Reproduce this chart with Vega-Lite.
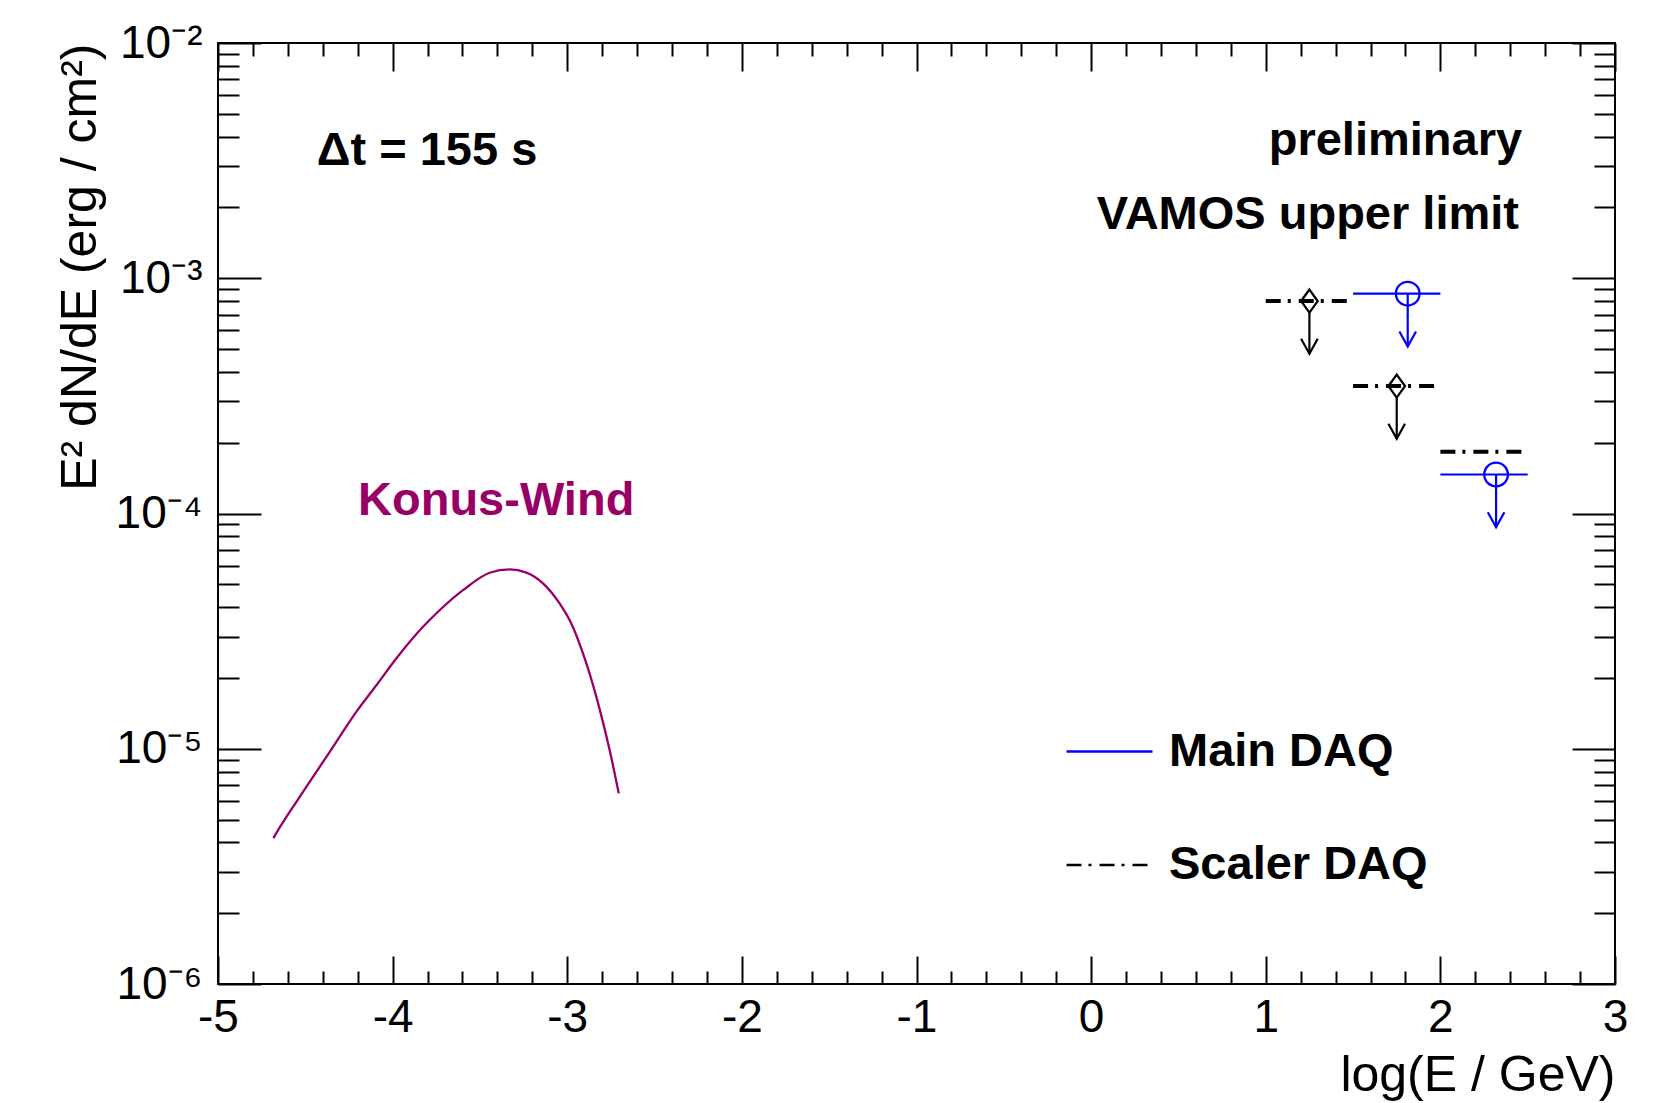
{
  "$schema": "https://vega.github.io/schema/vega-lite/v6.json",
  "width": 1397,
  "height": 941,
  "autosize": {"type": "none"},
  "padding": {"left": 218, "top": 43, "right": 55, "bottom": 119},
  "background": "white",
  "config": {
    "font": "Liberation Sans",
    "view": {"stroke": "black", "strokeWidth": 2},
    "axis": {"grid": false, "domain": false, "tickColor": "black", "tickWidth": 2, "labelColor": "black", "titleColor": "black", "labelFont": "Liberation Sans", "titleFont": "Liberation Sans", "labelFontWeight": "normal", "titleFontWeight": "normal"}
  },
  "datasets": {
    "konus": [
      {"logE": -4.683, "flux": 4.17e-6},
      {"logE": -4.656, "flux": 4.51e-6},
      {"logE": -4.532, "flux": 6.25e-6},
      {"logE": -4.360, "flux": 9.70e-6},
      {"logE": -4.208, "flux": 1.435e-5},
      {"logE": -4.093, "flux": 1.862e-5},
      {"logE": -3.979, "flux": 2.42e-5},
      {"logE": -3.826, "flux": 3.30e-5},
      {"logE": -3.731, "flux": 3.88e-5},
      {"logE": -3.597, "flux": 4.72e-5},
      {"logE": -3.444, "flux": 5.60e-5},
      {"logE": -3.330, "flux": 5.79e-5},
      {"logE": -3.234, "flux": 5.61e-5},
      {"logE": -3.139, "flux": 5.05e-5},
      {"logE": -3.044, "flux": 4.15e-5},
      {"logE": -2.977, "flux": 3.41e-5},
      {"logE": -2.891, "flux": 2.31e-5},
      {"logE": -2.813, "flux": 1.459e-5},
      {"logE": -2.757, "flux": 9.86e-6},
      {"logE": -2.705, "flux": 6.46e-6}
    ],
    "main": [
      {"daq": "Main DAQ", "xlo": 1.5, "xhi": 2.0, "xc": 1.813, "flux": 8.6e-4, "arrow_end": 5.13e-4},
      {"daq": "Main DAQ", "xlo": 2.0, "xhi": 2.5, "xc": 2.319, "flux": 1.465e-4, "arrow_end": 8.75e-5}
    ],
    "scaler": [
      {"daq": "Scaler DAQ", "xlo": 1.0, "xhi": 1.5, "xc": 1.25, "flux": 8.0e-4, "arrow_end": 4.78e-4},
      {"daq": "Scaler DAQ", "xlo": 1.5, "xhi": 2.0, "xc": 1.75, "flux": 3.48e-4, "arrow_end": 2.08e-4},
      {"daq": "Scaler DAQ", "xlo": 2.0, "xhi": 2.5, "xc": null, "flux": 1.83e-4, "arrow_end": null}
    ]
  },
  "resolve": {"axis": {"x": "independent", "y": "independent"}},
  "layer": [
    {
      "data": {"name": "konus"},
      "mark": {"type": "line", "color": "#990066", "strokeWidth": 2.3, "interpolate": "monotone"},
      "encoding": {
        "x": {
          "field": "logE", "type": "quantitative",
          "scale": {"domain": [-5, 3], "nice": false, "zero": false},
          "axis": {
            "orient": "bottom",
            "values": [-5,-4.8,-4.6,-4.4,-4.2,-4,-3.8,-3.6,-3.4,-3.2,-3,-2.8,-2.6,-2.4,-2.2,-2,-1.8,-1.6,-1.4,-1.2,-1,-0.8,-0.6,-0.4,-0.2,0,0.2,0.4,0.6,0.8,1,1.2,1.4,1.6,1.8,2,2.2,2.4,2.6,2.8,3],
            "labelExpr": "abs(datum.value - round(datum.value)) < 0.001 ? '' + round(datum.value) : ''",
            "tickSize": {"condition": {"test": "abs(datum.value - round(datum.value)) < 0.001", "value": -28}, "value": -13},
            "labelFontSize": 46,
            "labelPadding": 39,
            "labelOverlap": false,
            "labelFlush": false,
            "title": "log(E / GeV)",
            "titleFontSize": 50,
            "titleAnchor": "end",
            "titlePadding": -5
          }
        },
        "y": {
          "field": "flux", "type": "quantitative",
          "scale": {"type": "log", "domain": [1e-6, 1e-2], "nice": false},
          "axis": {
            "orient": "left",
            "values": [1e-6,2e-6,3e-6,4e-6,5e-6,6e-6,7e-6,8e-6,9e-6,1e-5,2e-5,3e-5,4e-5,5e-5,6e-5,7e-5,8e-5,9e-5,1e-4,2e-4,3e-4,4e-4,5e-4,6e-4,7e-4,8e-4,9e-4,1e-3,2e-3,3e-3,4e-3,5e-3,6e-3,7e-3,8e-3,9e-3,1e-2],
            "labelExpr": "abs(log(datum.value)/LN10 - round(log(datum.value)/LN10)) < 0.001 ? '10' + (round(log(datum.value)/LN10) == -2 ? '⁻²' : round(log(datum.value)/LN10) == -3 ? '⁻³' : round(log(datum.value)/LN10) == -4 ? '⁻⁴' : round(log(datum.value)/LN10) == -5 ? '⁻⁵' : '⁻⁶') : ''",
            "tickSize": {"condition": {"test": "abs(log(datum.value)/LN10 - round(log(datum.value)/LN10)) < 0.001", "value": -43}, "value": -21},
            "labelFontSize": 46,
            "labelPadding": 59,
            "labelOverlap": false,
            "labelFlush": false,
            "title": "E² dN/dE (erg / cm²)",
            "titleFontSize": 50,
            "titleAnchor": "end",
            "titlePadding": 10
          }
        }
      }
    },
    {
      "data": {"name": "main"},
      "mark": {"type": "rule", "color": "#0000ff", "strokeWidth": 2.2},
      "encoding": {
        "x": {"field": "xc", "type": "quantitative", "axis": null},
        "y": {"field": "flux", "type": "quantitative", "axis": null},
        "y2": {"field": "arrow_end"}
      }
    },
    {
      "data": {"name": "main"},
      "mark": {"type": "point", "shape": "M-1,-1.8L0,0L1,-1.8", "size": 276, "filled": false, "color": "#0000ff", "strokeWidth": 2.2, "opacity": 1},
      "encoding": {
        "x": {"field": "xc", "type": "quantitative", "axis": null},
        "y": {"field": "arrow_end", "type": "quantitative", "axis": null}
      }
    },
    {
      "data": {"name": "main"},
      "mark": {"type": "point", "shape": "circle", "size": 560, "filled": false, "color": "#0000ff", "strokeWidth": 2.3, "opacity": 1},
      "encoding": {
        "x": {"field": "xc", "type": "quantitative", "axis": null},
        "y": {"field": "flux", "type": "quantitative", "axis": null}
      }
    },
    {
      "data": {"name": "scaler"},
      "transform": [{"filter": "isValid(datum.xc)"}],
      "mark": {"type": "rule", "color": "black", "strokeWidth": 2.2},
      "encoding": {
        "x": {"field": "xc", "type": "quantitative", "axis": null},
        "y": {"field": "flux", "type": "quantitative", "axis": null},
        "y2": {"field": "arrow_end"}
      }
    },
    {
      "data": {"name": "scaler"},
      "transform": [{"filter": "isValid(datum.xc)"}],
      "mark": {"type": "point", "shape": "M-1,-1.8L0,0L1,-1.8", "size": 276, "filled": false, "color": "black", "strokeWidth": 2.2, "opacity": 1},
      "encoding": {
        "x": {"field": "xc", "type": "quantitative", "axis": null},
        "y": {"field": "arrow_end", "type": "quantitative", "axis": null}
      }
    },
    {
      "data": {"name": "scaler"},
      "transform": [{"filter": "isValid(datum.xc)"}],
      "mark": {"type": "point", "shape": "M0,-1L0.72,0L0,1L-0.72,0Z", "size": 529, "filled": true, "fill": "white", "stroke": "black", "strokeWidth": 2.3, "opacity": 1},
      "encoding": {
        "x": {"field": "xc", "type": "quantitative", "axis": null},
        "y": {"field": "flux", "type": "quantitative", "axis": null}
      }
    },
    {
      "data": {"name": "main"},
      "mark": {"type": "rule", "strokeWidth": 2.2},
      "encoding": {
        "x": {
          "field": "xlo", "type": "quantitative",
          "axis": {
            "orient": "top",
            "values": [-5,-4.8,-4.6,-4.4,-4.2,-4,-3.8,-3.6,-3.4,-3.2,-3,-2.8,-2.6,-2.4,-2.2,-2,-1.8,-1.6,-1.4,-1.2,-1,-0.8,-0.6,-0.4,-0.2,0,0.2,0.4,0.6,0.8,1,1.2,1.4,1.6,1.8,2,2.2,2.4,2.6,2.8,3],
            "labels": false,
            "title": null,
            "tickSize": {"condition": {"test": "abs(datum.value - round(datum.value)) < 0.001", "value": -28}, "value": -13}
          }
        },
        "x2": {"field": "xhi"},
        "y": {
          "field": "flux", "type": "quantitative",
          "axis": {
            "orient": "right",
            "values": [1e-6,2e-6,3e-6,4e-6,5e-6,6e-6,7e-6,8e-6,9e-6,1e-5,2e-5,3e-5,4e-5,5e-5,6e-5,7e-5,8e-5,9e-5,1e-4,2e-4,3e-4,4e-4,5e-4,6e-4,7e-4,8e-4,9e-4,1e-3,2e-3,3e-3,4e-3,5e-3,6e-3,7e-3,8e-3,9e-3,1e-2],
            "labels": false,
            "title": null,
            "tickSize": {"condition": {"test": "abs(log(datum.value)/LN10 - round(log(datum.value)/LN10)) < 0.001", "value": -43}, "value": -21}
          }
        },
        "color": {
          "field": "daq", "type": "nominal",
          "scale": {"domain": ["Main DAQ", "Scaler DAQ"], "range": ["#0000ff", "#000000"]},
          "legend": {
            "orient": "none", "legendX": 847, "legendY": 664, "title": null,
            "symbolType": "stroke", "symbolSize": 7396, "symbolStrokeWidth": 2.5,
            "labelFontSize": 47, "labelFontWeight": "bold", "labelFont": "Liberation Sans", "labelColor": "black",
            "labelOffset": 15, "labelLimit": 500, "rowPadding": 45.6, "padding": 0
          }
        },
        "strokeDash": {
          "field": "daq", "type": "nominal",
          "scale": {"domain": ["Main DAQ", "Scaler DAQ"], "range": [[1, 0], [15, 7, 3, 8]]},
          "legend": {
            "orient": "none", "legendX": 847, "legendY": 664, "title": null,
            "symbolType": "stroke", "symbolSize": 7396, "symbolStrokeWidth": 2.5,
            "labelFontSize": 47, "labelFontWeight": "bold", "labelFont": "Liberation Sans", "labelColor": "black",
            "labelOffset": 15, "labelLimit": 500, "rowPadding": 45.6, "padding": 0
          }
        }
      }
    },
    {
      "data": {"name": "scaler"},
      "mark": {"type": "rule", "strokeWidth": 4},
      "encoding": {
        "x": {"field": "xlo", "type": "quantitative", "axis": null},
        "x2": {"field": "xhi"},
        "y": {"field": "flux", "type": "quantitative", "axis": null},
        "color": {"field": "daq", "type": "nominal"},
        "strokeDash": {"field": "daq", "type": "nominal"}
      }
    },
    {
      "data": {"values": [{}]},
      "mark": {"type": "text", "text": "Δt = 155 s", "font": "Liberation Sans", "fontWeight": "bold", "fontSize": 47, "align": "left", "baseline": "alphabetic", "color": "black"},
      "encoding": {
        "x": {"datum": -4.435, "type": "quantitative", "axis": null},
        "y": {"datum": 3.02e-3, "type": "quantitative", "axis": null}
      }
    },
    {
      "data": {"values": [{}]},
      "mark": {"type": "text", "text": "preliminary", "font": "Liberation Sans", "fontWeight": "bold", "fontSize": 47, "align": "right", "baseline": "alphabetic", "color": "black"},
      "encoding": {
        "x": {"datum": 2.468, "type": "quantitative", "axis": null},
        "y": {"datum": 3.33e-3, "type": "quantitative", "axis": null}
      }
    },
    {
      "data": {"values": [{}]},
      "mark": {"type": "text", "text": "VAMOS upper limit", "font": "Liberation Sans", "fontWeight": "bold", "fontSize": 47, "align": "right", "baseline": "alphabetic", "color": "black"},
      "encoding": {
        "x": {"datum": 2.45, "type": "quantitative", "axis": null},
        "y": {"datum": 1.625e-3, "type": "quantitative", "axis": null}
      }
    },
    {
      "data": {"values": [{}]},
      "mark": {"type": "text", "text": "Konus-Wind", "font": "Liberation Sans", "fontWeight": "bold", "fontSize": 47, "align": "left", "baseline": "alphabetic", "color": "#990066"},
      "encoding": {
        "x": {"datum": -4.198, "type": "quantitative", "axis": null},
        "y": {"datum": 9.83e-5, "type": "quantitative", "axis": null}
      }
    }
  ]
}
